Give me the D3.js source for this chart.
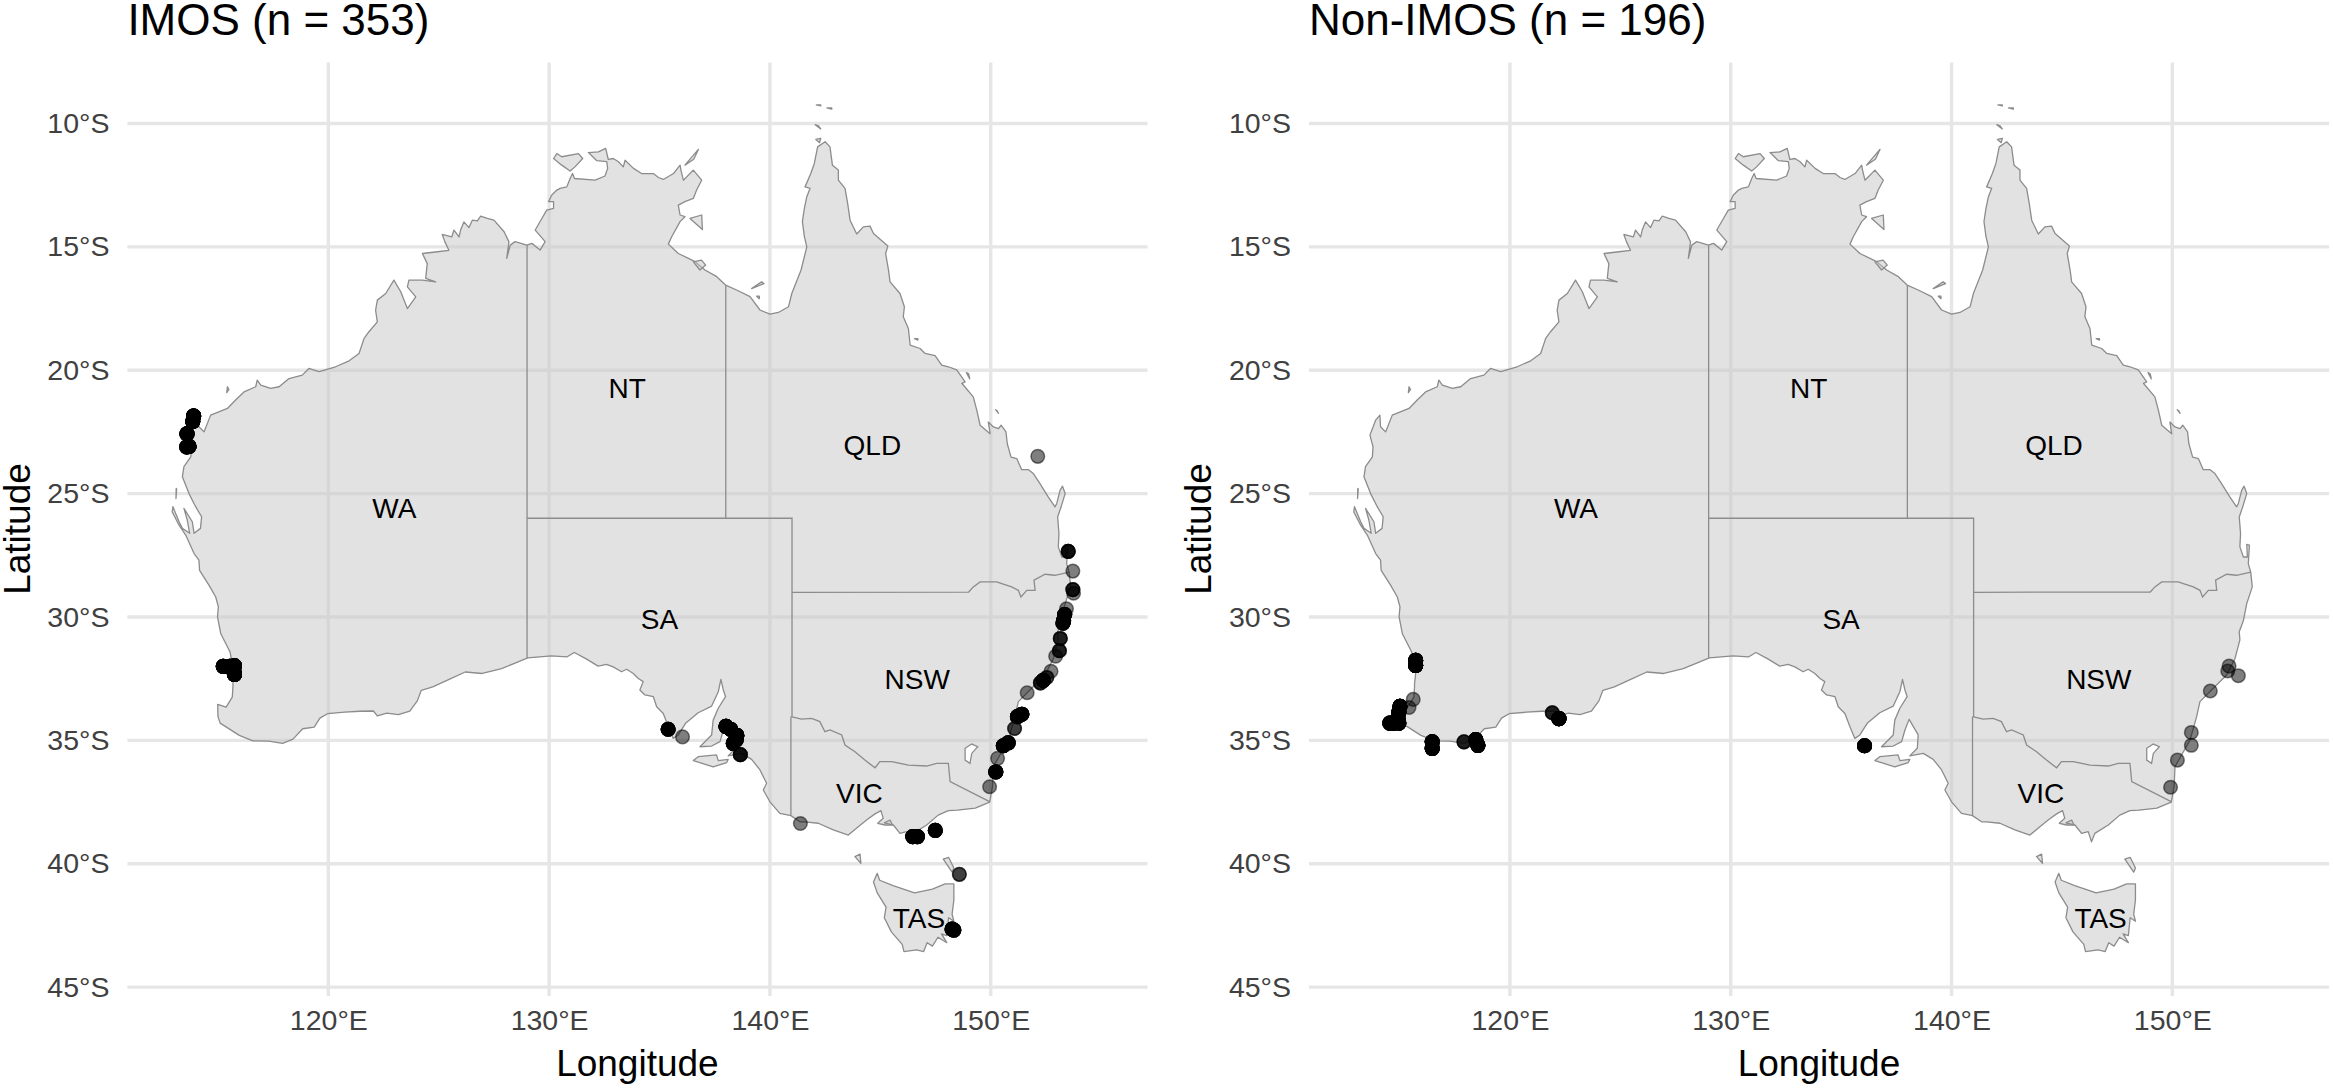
<!DOCTYPE html>
<html>
<head>
<meta charset="utf-8">
<script src="https://cdn.jsdelivr.net/npm/d3@7"></script>
<style>
html, body { margin: 0; background: #fff; }
text { font-family: "Liberation Sans", Arial, sans-serif; }
</style>
</head>
<body>
<svg id="chart" width="2333" height="1088"></svg>
<script>
// [lon, lat], clockwise from Cape Leeuwin
const mainland = [
  [115.1,-34.3],[115,-34.03],[114.99,-33.54],[115.37,-33.65],[115.65,-33.25],[115.68,-32.83],[115.68,-32.7],[115.73,-32.3],
  [115.55,-31.42],[115.13,-30.68],[114.98,-30],[115.02,-29.59],[114.9,-29.19],[114.6,-28.72],[114.17,-28.11],[114.14,-27.7],
  [113.92,-27.43],[113.54,-26.68],[113.24,-26.28],[112.93,-25.74],[112.96,-25.53],[113.24,-26.14],[113.39,-26.41],[113.72,-26.61],
  [113.61,-26.07],[113.46,-25.6],[113.84,-26.14],[113.92,-26.61],[114.21,-26.41],[114.26,-25.94],[113.99,-25.53],[113.69,-25],
  [113.39,-24.32],[113.46,-23.91],[113.77,-23.51],[113.8,-23.1],[113.66,-22.63],[113.92,-22.02],[114.11,-21.82],[114.14,-22.29],
  [114.37,-22.5],[114.67,-21.82],[115.43,-21.55],[115.8,-21.21],[116.18,-20.88],[116.71,-20.67],[116.78,-20.4],[116.94,-20.6],
  [117.39,-20.74],[117.77,-20.67],[118.22,-20.34],[118.82,-20.2],[119.12,-19.93],[119.58,-20.06],[120.33,-19.86],[120.94,-19.62],
  [121.39,-19.32],[121.62,-18.71],[121.84,-18.44],[122.22,-18.04],[122.14,-17.57],[122.22,-17.16],[122.6,-16.89],[122.97,-16.35],
  [123.28,-16.82],[123.58,-17.5],[123.96,-17.03],[123.58,-16.62],[123.65,-16.35],[124.26,-16.35],[124.86,-16.42],[124.41,-16.28],
  [124.48,-15.68],[124.26,-15.27],[124.94,-15.2],[125.46,-15.14],[125.28,-14.8],[125.16,-14.5],[125.59,-14.6],[125.69,-14.32],
  [125.92,-14.6],[125.99,-14.32],[126.14,-13.99],[126.37,-14.22],[126.52,-13.92],[126.75,-13.95],[126.9,-13.76],[127.2,-13.85],
  [127.5,-13.92],[127.96,-14.39],[128.18,-14.8],[128.08,-15.47],[128.24,-14.93],[128.46,-14.79],[128.99,-14.93],[129.22,-14.86],
  [129.59,-15.13],[129.82,-14.79],[129.37,-14.32],[129.67,-13.85],[129.89,-13.51],[130.2,-13.44],[130.2,-13.17],[129.97,-13.17],
  [130.12,-12.9],[130.35,-12.7],[130.5,-12.63],[130.8,-12.57],[130.95,-12.23],[131.06,-12.03],[131.15,-12.23],[132.08,-12.3],
  [132.53,-12.13],[132.65,-11.82],[132.61,-11.55],[132.16,-11.51],[131.78,-11.18],[132.23,-11.15],[132.56,-11.01],[132.68,-11.46],
  [132.91,-11.42],[133.14,-11.55],[133.36,-11.76],[133.44,-11.49],[133.82,-11.82],[134.19,-12.03],[134.72,-12.03],[134.95,-12.19],
  [135.17,-12.27],[135.63,-12.03],[135.93,-11.69],[135.97,-11.89],[136.08,-12.3],[136.53,-11.89],[136.91,-12.3],[136.68,-12.7],
  [136.53,-13.04],[136.15,-13.17],[135.85,-13.31],[135.93,-13.71],[136.15,-13.78],[135.93,-13.98],[135.55,-14.59],[135.4,-14.89],
  [135.85,-15.27],[136.61,-15.6],[137.06,-15.94],[137.59,-16.21],[137.99,-16.55],[138.49,-16.75],[139.1,-17.02],[139.55,-17.56],
  [140,-17.73],[140.38,-17.66],[140.84,-17.43],[140.99,-16.89],[141.41,-15.94],[141.67,-15],[141.56,-14.59],[141.47,-13.98],
  [141.56,-13.44],[141.67,-12.97],[141.82,-12.63],[141.59,-12.57],[141.85,-12.03],[142.01,-11.62],[142.16,-10.95],[142.5,-10.74],
  [142.72,-10.95],[142.83,-11.69],[143.1,-11.89],[143.1,-12.3],[143.4,-12.63],[143.52,-13.24],[143.63,-13.92],[143.93,-14.48],
  [144.23,-14.19],[144.53,-14.16],[144.69,-14.46],[145.34,-14.97],[145.24,-15.27],[145.37,-15.94],[145.44,-16.42],[145.89,-16.89],
  [146.09,-17.43],[146.04,-17.83],[146.27,-18.31],[146.35,-18.98],[146.8,-19.12],[147.03,-19.32],[147.48,-19.41],[147.78,-19.79],
  [148.08,-19.86],[148.46,-19.99],[148.84,-20.47],[148.69,-20.53],[149.21,-21.08],[149.37,-21.63],[149.52,-22.23],[149.97,-22.57],
  [149.89,-22.1],[150.12,-22.3],[150.35,-22.37],[150.47,-22.23],[150.69,-22.5],[150.75,-22.98],[150.92,-23.52],[151.18,-23.58],
  [151.4,-24.03],[151.71,-24.03],[151.93,-24.19],[152.23,-24.6],[152.61,-25.14],[152.91,-25.54],[152.99,-25.4],[153.14,-24.87],
  [153.25,-24.7],[153.37,-25],[153.2,-25.5],[153.03,-25.95],[153.09,-26.62],[153.06,-27.16],[153.22,-27.57],[153.4,-27.57],
  [153.37,-27.06],[153.49,-27.09],[153.44,-27.84],[153.55,-28.18],[153.62,-28.78],[153.37,-29.46],[153.22,-30.14],[153.03,-30.6],
  [153.06,-30.93],[152.84,-31.68],[152.46,-32.35],[152,-32.76],[151.25,-33.43],[151.1,-34.04],[150.8,-34.99],[150.5,-35.46],
  [150.12,-36.07],[150.08,-36.88],[149.97,-37.42],[149.95,-37.5],[149.3,-37.75],[148.49,-37.83],[148.08,-37.85],[147.62,-38.03],
  [147.1,-38.43],[146.49,-38.77],[146.34,-39.11],[146.19,-38.7],[145.89,-38.77],[145.59,-38.43],[145.21,-38.43],[144.88,-38.36],
  [145.13,-38.16],[145.03,-37.85],[144.76,-37.98],[144.42,-38.2],[144,-38.5],[143.55,-38.84],[142.87,-38.63],[142.19,-38.36],
  [141.58,-38.3],[141.36,-38.3],[140.95,-38.05],[140.45,-37.96],[140,-37.49],[139.7,-37.01],[139.85,-36.74],[139.55,-36.2],
  [139.17,-35.77],[138.72,-35.53],[138.11,-35.63],[138.45,-35.32],[138.49,-34.78],[138.08,-34.15],[137.89,-34.58],[137.74,-35.05],
  [137.36,-35.23],[136.83,-35.26],[137.36,-34.78],[137.43,-34.18],[137.66,-33.7],[137.99,-33.23],[137.89,-32.96],[137.78,-32.53],
  [137.66,-33.03],[137.36,-33.61],[136.75,-33.88],[136.18,-34.31],[135.85,-34.78],[135.62,-34.92],[135.4,-34.45],[135.17,-33.91],
  [134.87,-33.64],[134.72,-33.23],[134.34,-33.16],[134.11,-32.96],[134.26,-32.62],[134.04,-32.49],[133.81,-32.29],[133.51,-32.12],
  [133.28,-32.22],[132.9,-32.02],[132.6,-31.92],[132.22,-31.99],[131.66,-31.69],[131.14,-31.44],[130.8,-31.62],[130.1,-31.58],
  [129.03,-31.66],[128.54,-31.84],[127.85,-32.09],[126.97,-32.29],[126.2,-32.23],[125.42,-32.55],[124.73,-32.83],[124.21,-32.97],
  [124.03,-33.4],[123.69,-33.82],[123.17,-33.96],[122.65,-33.9],[122.22,-34.01],[122.04,-33.81],[121.44,-33.82],[120.74,-33.86],
  [119.96,-33.92],[119.62,-34.1],[119.36,-34.46],[118.84,-34.53],[118.4,-34.95],[117.93,-35.12],[117.3,-35.03],[116.58,-35.02],
  [115.97,-34.8],[115.1,-34.3]
];

const tasmania = [
  [144.86,-40.39],[144.97,-40.67],[145.58,-40.89],[146.55,-41.18],[147.36,-41.03],[147.93,-40.82],[148.33,-40.82],[148.33,-41.47],
  [148.25,-42.04],[148.33,-42.33],[148.09,-42.19],[148.01,-42.91],[147.77,-42.84],[148.01,-43.2],[147.61,-42.98],[147.36,-43.34],
  [147.12,-43.2],[146.96,-43.56],[146.64,-43.49],[146.07,-43.56],[145.99,-43.27],[145.5,-42.76],[145.18,-42.19],[145.26,-41.76],
  [144.86,-41.18],[144.69,-40.74],[144.86,-40.39]
];

const islands = [
  [[115.43,-20.67],[115.5,-20.78],[115.4,-20.91],[115.33,-20.83]],
  [[113.11,-24.79],[113.13,-24.82],[113.1,-25.2],[113.07,-25.18]],
  [[130.2,-11.42],[130.35,-11.22],[130.57,-11.35],[131.33,-11.22],[131.52,-11.42],[131.17,-11.76],[130.95,-11.93],[130.57,-11.69],[130.05,-11.82]],
  [[136.38,-13.85],[136.91,-13.71],[136.94,-14.3],[136.43,-14.22]],
  [[136.76,-11.05],[136.55,-11.45],[136.15,-11.69],[136.6,-11.5]],
  [[136.53,-15.61],[136.9,-15.54],[137.09,-15.74],[136.83,-15.94],[136.61,-15.74]],
  [[139.17,-16.69],[139.62,-16.42],[139.73,-16.49],[139.32,-16.76]],
  [[139.4,-17],[139.52,-17],[139.52,-17.1],[139.4,-17.1]],
  [[142.1,-9.25],[142.3,-9.25],[142.3,-9.29],[142.1,-9.29]],
  [[142.58,-9.37],[142.8,-9.37],[142.8,-9.42],[142.58,-9.42]],
  [[142.05,-10.05],[142.2,-10.1],[142.3,-10.22],[142.15,-10.25]],
  [[142.08,-10.65],[142.3,-10.6],[142.25,-10.78],[142.1,-10.8]],
  [[146.55,-18.72],[146.7,-18.72],[146.7,-18.78],[146.55,-18.78]],
  [[148.9,-20.1],[149,-20.15],[149.05,-20.35],[148.95,-20.3]],
  [[150.22,-21.6],[150.3,-21.65],[150.35,-21.75],[150.25,-21.72]],
  [[136.53,-35.82],[136.75,-35.66],[137.58,-35.59],[137.66,-35.82],[138.11,-35.77],[138.04,-35.9],[137.43,-36.07],[136.75,-36.04]],
  [[143.85,-39.71],[144.08,-39.61],[144.12,-39.98],[143.92,-40.15]],
  [[147.85,-39.81],[148.09,-39.74],[148.33,-40.17],[148.25,-40.34],[147.93,-40.03]],
  [[145.18,-38.34],[145.44,-38.23],[145.55,-38.43],[145.28,-38.53]]
];

const act = [[148.84,-35.32],[149.14,-35.15],[149.41,-35.26],[149.14,-35.53],[149.06,-35.93],[148.84,-35.8],[148.76,-35.53]];

const borders = [
  [[129,-14.93],[129,-31.66]],
  [[138,-16.55],[138,-26]],
  [[129,-26],[141,-26],[141,-29],[141,-34.04]],
  [[140.95,-34.04],[140.95,-38.05]],
  [[141,-29],[149,-28.99],[149.21,-28.78],[149.52,-28.58],[150.27,-28.58],[150.5,-28.65],[150.95,-28.78],[151.25,-28.92],[151.37,-29.19],
   [151.63,-28.92],[152.01,-28.92],[151.96,-28.51],[152.46,-28.27],[152.91,-28.31],[153.55,-28.18]],
  [[140.95,-34.04],[141.43,-34.14],[141.89,-34.11],[142.26,-34.24],[142.49,-34.65],[142.72,-34.58],[143.25,-34.78],[143.4,-35.19],
   [143.85,-35.46],[144.3,-35.8],[144.76,-36.11],[144.98,-35.86],[145.51,-35.86],[146.27,-36],[147.1,-36.04],[147.55,-35.93],[148.08,-35.93],
   [148.16,-36.67],[149.97,-37.49]]
];

const stateNames = ["WA","NT","QLD","SA","NSW","VIC","TAS"];
const stateLon = [122.99,133.53,144.64,135,146.67,144.05,146.75];
const stateLat = [-25.6,-20.7,-23.01,-30.08,-32.53,-37.12,-42.2];

// [lon, lat, samples]; samples sum to the n in each title
const imosSites = [
  [113.9,-21.86,20],[113.86,-22.07,18],[113.6,-22.58,14],[113.69,-23.09,14],[113.59,-23.11,10],
  [115.24,-32,10],[115.54,-32,10],[115.75,-31.98,14],[115.72,-32.19,14],[115.75,-32.33,22],
  [152.13,-23.49,1],[153.51,-27.34,4],[153.72,-28.14,1],[153.72,-28.89,3],[153.75,-29.04,1],[153.43,-29.67,1],
  [153.35,-29.9,8],[153.3,-30.15,8],[153.27,-30.25,6],[153.15,-30.87,3],[153.11,-31.37,3],[152.94,-31.59,1],
  [152.73,-32.2,1],[152.54,-32.45,2],[152.38,-32.57,8],[152.25,-32.67,3],[151.65,-33.07,1],[151.41,-33.94,8],
  [151.21,-34.04,8],[151.08,-34.52,2],[150.79,-35.1,8],[150.57,-35.22,8],[150.31,-35.73,1],[150.23,-36.28,8],[149.95,-36.88,1],
  [141.38,-38.37,1],[146.47,-38.9,8],[146.68,-38.9,8],[147.49,-38.65,7],[148.58,-40.43,2],[148.25,-42.65,8],[148.33,-42.69,6],
  [135.39,-34.55,7],[136.04,-34.86,1],[138.01,-34.43,12],[138.22,-34.55,12],[138.5,-34.8,12],[138.47,-34.98,10],[138.34,-35.12,10],[138.66,-35.58,4]
];
const nonImosSites = [
  [115.73,-31.76,14],[115.73,-31.96,22],[115.62,-33.34,1],[115.43,-33.67,1],[115.02,-33.62,14],[114.97,-33.85,14],[114.93,-34.12,14],
  [114.67,-34.32,10],[114.97,-34.3,10],[114.56,-34.3,10],[116.48,-35.06,12],[116.48,-35.33,12],[117.92,-35.06,3],[118.45,-34.97,12],
  [118.55,-35.2,12],[121.92,-33.88,3],[122.22,-34.12,14],[136.06,-35.22,10],[152.57,-31.99,1],[152.51,-32.19,1],[152.99,-32.38,1],
  [151.72,-33,1],[150.86,-34.68,1],[150.86,-35.2,1],[150.23,-35.8,1],[149.92,-36.9,1]
];

const lonTicks = [120,130,140,150];
const latTicks = [-10,-15,-20,-25,-30,-35,-40,-45];

const svg = d3.select("#chart");

function drawPanel(left, title, sites) {
  const x = d3.scaleLinear().domain([110.9,157.1]).range([left, left + 1020.1]);
  const y = d3.scaleLinear().domain([-45.36,-7.53]).range([996, 62.5]);
  const path = d3.geoPath(d3.geoTransform({
    point(lon, lat) { this.stream.point(x(lon), y(lat)); }
  }));
  const g = svg.append("g");

  // grid
  g.selectAll(".gx").data(lonTicks).join("line")
    .attr("x1", d => x(d)).attr("x2", d => x(d)).attr("y1", 62.5).attr("y2", 996)
    .attr("stroke", "#e6e6e6").attr("stroke-width", 3.4);
  g.selectAll(".gy").data(latTicks).join("line")
    .attr("x1", left).attr("x2", left + 1020.1).attr("y1", d => y(d)).attr("y2", d => y(d))
    .attr("stroke", "#e6e6e6").attr("stroke-width", 3.4);

  // land
  const land = [mainland, tasmania].concat(islands);
  g.selectAll(".land").data(land).join("path")
    .attr("d", d => path({type: "Polygon", coordinates: [d]}))
    .attr("fill", "#c6c6c6").attr("fill-opacity", 0.5)
    .attr("stroke", "#8c8c8c").attr("stroke-width", 1.3).attr("stroke-linejoin", "round");
  g.append("path")
    .attr("d", path({type: "Polygon", coordinates: [act]}))
    .attr("fill", "#fff").attr("stroke", "#8c8c8c").attr("stroke-width", 1.3);
  g.selectAll(".border").data(borders).join("path")
    .attr("d", d => path({type: "LineString", coordinates: d}))
    .attr("fill", "none").attr("stroke", "#8c8c8c").attr("stroke-width", 1.3);

  // one circle per sample, repeats at a site build up to black
  const samples = sites.flatMap(d => d3.range(d[2]).map(() => d));
  g.selectAll(".pt").data(samples).join("circle")
    .attr("cx", d => x(d[0])).attr("cy", d => y(d[1])).attr("r", 6.8)
    .attr("fill", "#000").attr("fill-opacity", 0.5)
    .attr("stroke", "#000").attr("stroke-opacity", 0.5).attr("stroke-width", 1.5);

  g.selectAll(".state").data(stateNames).join("text")
    .attr("x", (d, i) => x(stateLon[i])).attr("y", (d, i) => y(stateLat[i]))
    .attr("dy", "0.36em").attr("text-anchor", "middle")
    .attr("font-size", 28).attr("fill", "#000").text(d => d);

  // axes
  const ax = g.append("g").attr("transform", "translate(0,1010)")
    .call(d3.axisBottom(x).tickValues(lonTicks).tickSize(0).tickPadding(0).tickFormat(d => d + "°E"));
  const ay = g.append("g").attr("transform", `translate(${left - 18},0)`)
    .call(d3.axisLeft(y).tickValues(latTicks).tickSize(0).tickPadding(0).tickFormat(d => -d + "°S"));
  ax.select(".domain").remove();
  ay.select(".domain").remove();
  ax.selectAll("text").attr("font-size", 28.5).attr("fill", "#404040").attr("font-family", null);
  ay.selectAll("text").attr("font-size", 28.5).attr("fill", "#404040").attr("font-family", null);

  g.append("text").attr("x", left).attr("y", 35).attr("font-size", 44).attr("fill", "#000").text(title);
  g.append("text").attr("x", left + 510).attr("y", 1076).attr("text-anchor", "middle")
    .attr("font-size", 37).attr("fill", "#000").text("Longitude");
  g.append("text").attr("transform", `translate(${left - 97.6},529) rotate(-90)`).attr("text-anchor", "middle")
    .attr("font-size", 37).attr("fill", "#000").text("Latitude");
}

drawPanel(127.4, "IMOS (n = 353)", imosSites);
drawPanel(1309, "Non-IMOS (n = 196)", nonImosSites);
</script>
</body>
</html>
